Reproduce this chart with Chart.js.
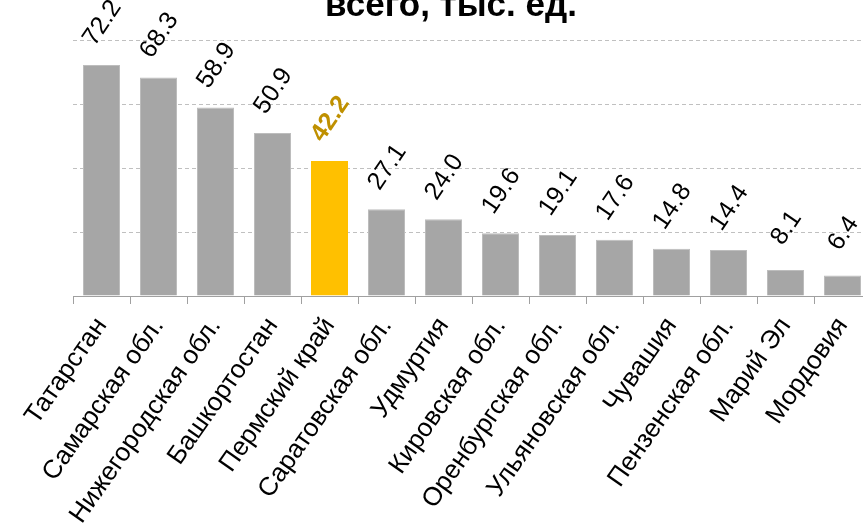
<!DOCTYPE html>
<html>
<head>
<meta charset="utf-8">
<script src="https://cdn.jsdelivr.net/npm/chart.js@4.4.1/dist/chart.umd.min.js"></script>
<style>
  html, body { margin: 0; padding: 0; background: #ffffff; overflow: hidden; }
  #wrap { position: relative; width: 863px; height: 531px; overflow: hidden; }
  #box { position: absolute; left: 0; top: 0; width: 880px; height: 560px; }
</style>
</head>
<body>
<div id="wrap"><div id="box"><canvas id="c" width="880" height="560"></canvas></div></div>
<script>
const categories = ["Татарстан", "Самарская обл.", "Нижегородская обл.", "Башкортостан", "Пермский край", "Саратовская обл.", "Удмуртия", "Кировская обл.", "Оренбургская обл.", "Ульяновская обл.", "Чувашия", "Пензенская обл.", "Марий Эл", "Мордовия"];
const values = [72.2, 68.3, 58.9, 50.9, 42.2, 27.1, 24.0, 19.6, 19.1, 17.6, 14.8, 14.4, 8.1, 6.4];
const highlightIndex = 4;
const yTicks = [0, 20, 40, 60, 80];
const titleText = "всего, тыс. ед.";

const FONT = "'Liberation Sans', Arial, sans-serif";
const barColors = values.map((v, i) => i === highlightIndex ? '#FFC000' : '#A6A6A6');

const titlePlugin = {
  id: 'titleTop',
  afterDraw(chart) {
    const ctx = chart.ctx;
    ctx.save();
    ctx.font = "bold 35px " + FONT;
    ctx.fillStyle = '#000';
    ctx.textAlign = 'center';
    ctx.textBaseline = 'alphabetic';
    ctx.fillText(titleText, 451, 16);
    ctx.restore();
  }
};

const labelPlugin = {
  id: 'rotLabels',
  afterDatasetsDraw(chart) {
    const ctx = chart.ctx;
    const meta = chart.getDatasetMeta(0);
    meta.data.forEach((bar, i) => {
      const hl = i === highlightIndex;
      ctx.save();
      ctx.translate(bar.x + 1, bar.y - 42);
      ctx.rotate(-56 * Math.PI / 180);
      ctx.font = (hl ? "bold " : "") + "25px " + FONT;
      ctx.fillStyle = hl ? '#BF9000' : '#000000';
      ctx.textAlign = 'center';
      ctx.textBaseline = 'middle';
      ctx.fillText(values[i].toFixed(1), 0, 0);
      ctx.restore();
    });
  }
};

new Chart(document.getElementById('c'), {
  type: 'bar',
  data: {
    labels: categories,
    datasets: [{
      data: values,
      backgroundColor: barColors,
      borderColor: values.map((v, i) => i === highlightIndex ? '#FFC000' : '#BDBDBD'),
      borderWidth: 1,
      barPercentage: 0.65,
      categoryPercentage: 1.0
    }]
  },
  options: {
    responsive: false,
    animation: false,
    devicePixelRatio: 1,
    layout: { padding: { top: 40, right: 9, left: 0, bottom: 0 } },
    plugins: { legend: { display: false }, tooltip: { enabled: false }, title: { display: false } },
    scales: {
      x: {
        offset: true,
        grid: { display: true, offset: true, drawOnChartArea: false, drawTicks: true, tickLength: 8, color: '#A0A0A0', lineWidth: 1 },
        border: { display: true, color: '#A0A0A0', width: 1 },
        ticks: { autoSkip: false, maxRotation: 55, minRotation: 55, padding: 8, color: '#000', font: { family: FONT, size: 26 } },
        afterFit(s) { s.height = 264; }
      },
      y: {
        min: 0, max: 80,
        afterBuildTicks(s) { s.ticks = yTicks.map(v => ({ value: v })); },
        ticks: { display: false },
        grid: { color: '#C0C0C0', lineWidth: 1, drawTicks: false },
        border: { display: false, dash: [4, 3] },
        afterFit(s) { s.width = 73; }
      }
    }
  },
  plugins: [titlePlugin, labelPlugin]
});
</script>
</body>
</html>
